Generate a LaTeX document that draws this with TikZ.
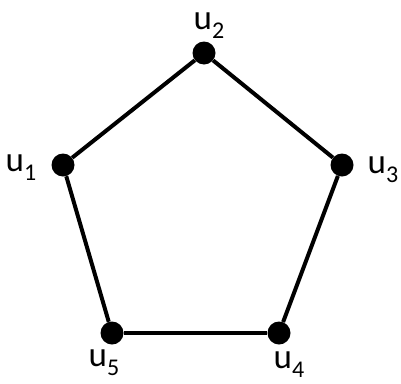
\documentclass[tikz,border=0pt]{standalone}
\usepackage{fontspec}
\setmainfont{Carlito}
\tikzset{
  vertex/.style={circle,fill=black,inner sep=0pt,minimum size=23pt},
  edge/.style={draw=black,line width=4pt},
  vlabel/.style={inner sep=0pt,font=\fontsize{35}{38}\selectfont}
}
\newcommand{\ulab}[1]{u\raisebox{-0.25em}{\fontsize{24}{26}\selectfont #1}}

\begin{document}
\begin{tikzpicture}[x=1pt,y=-1pt]
  \useasboundingbox (0,0) rectangle (401,383);

  \node[vertex] (u1) at (63,165) {};
  \node[vertex] (u2) at (204,53) {};
  \node[vertex] (u3) at (342,165) {};
  \node[vertex] (u4) at (279,333) {};
  \node[vertex] (u5) at (112,333) {};

  \node[vlabel] (l1) at (21,168) {\ulab{1}};
  \node[vlabel] (l2) at (209,26) {\ulab{2}};
  \node[vlabel] (l3) at (383,170) {\ulab{3}};
  \node[vlabel] (l4) at (289,365) {\ulab{4}};
  \node[vlabel] (l5) at (104,363) {\ulab{5}};

  \draw[edge] (u1) -- (u2);
  \draw[edge] (u2) -- (u3);
  \draw[edge] (u3) -- (u4);
  \draw[edge] (u4) -- (u5);
  \draw[edge] (u5) -- (u1);
\end{tikzpicture}
\end{document}
